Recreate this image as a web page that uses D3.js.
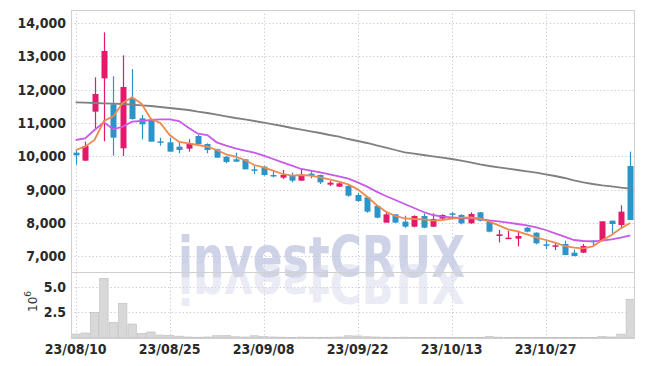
<!DOCTYPE html>
<html><head><meta charset="utf-8">
<script src="https://cdn.jsdelivr.net/npm/d3@7"></script>
<style>body{margin:0;background:#fff}svg{display:block}</style>
</head><body><svg id="c" width="645" height="366"></svg>
<script>
const dates = ["23/08/10","23/08/11","23/08/14","23/08/16","23/08/17","23/08/18","23/08/21","23/08/22","23/08/23","23/08/24",
"23/08/25","23/08/28","23/08/29","23/08/30","23/08/31","23/09/01","23/09/04","23/09/05","23/09/06","23/09/07",
"23/09/08","23/09/11","23/09/12","23/09/13","23/09/14","23/09/15","23/09/18","23/09/19","23/09/20","23/09/21",
"23/09/22","23/09/25","23/09/26","23/09/27","23/10/04","23/10/05","23/10/06","23/10/10","23/10/11","23/10/12",
"23/10/13","23/10/16","23/10/17","23/10/18","23/10/19","23/10/20","23/10/23","23/10/24","23/10/25","23/10/26",
"23/10/27","23/10/30","23/10/31","23/11/01","23/11/02","23/11/03","23/11/06","23/11/07","23/11/08","23/11/09"];
const open  = [10110,9870,11340,12340,11560,10240,11740,11140,11090,10450,10420,10290,10230,10610,10370,10210,9990,9910,9910,9610,
9690,9440,9360,9440,9270,9480,9440,9150,9090,9110,8840,8770,8510,8010,8260,8040,7890,8210,7890,8130,
8290,8240,7990,8320,8040,7610,7530,7530,7860,7710,7360,7290,7370,7110,7110,7470,7490,8070,7940,9710];
const high  = [10190,10440,12370,13720,12400,13030,12620,11240,11140,10560,10560,10440,10510,10640,10390,10230,10010,10110,9920,9710,
9710,9570,9590,9510,9620,9570,9450,9270,9220,9140,8910,8790,8510,8310,8260,8220,8230,8290,8290,8260,
8320,8260,8320,8330,8060,7790,7770,7770,7880,7720,7510,7410,7470,7200,7370,7490,8050,8070,8530,10140];
const low   = [9750,9860,10840,10450,10020,10010,11100,10510,10440,10320,10140,10090,10140,10370,10090,9960,9790,9840,9610,9470,
9420,9370,9320,9220,9260,9340,9170,9110,9080,8790,8630,8310,8140,8010,8010,7860,7870,7840,7880,8120,
8170,7960,7980,8050,7720,7420,7530,7300,7720,7360,7210,7190,7040,7000,7100,7290,7470,7690,7820,8090];
const close = [10030,10310,11870,13160,10560,12080,11120,10960,10440,10420,10140,10190,10390,10370,10190,9960,9830,9840,9610,9570,
9440,9410,9440,9270,9410,9410,9220,9210,9190,8820,8660,8340,8160,8260,8010,7890,8210,7860,8120,8240,
8260,7990,8270,8070,7740,7660,7560,7610,7740,7390,7330,7330,7040,7010,7310,7430,8050,7970,8340,8090];
const volume = [0.39,0.49,2.5,5.85,1.54,3.4,1.37,0.46,0.59,0.29,0.26,0.18,0.1,0.08,0.1,0.22,0.24,0.12,0.1,0.22,
0.13,0.1,0.08,0.07,0.09,0.08,0.07,0.08,0.1,0.22,0.2,0.12,0.1,0.08,0.07,0.08,0.07,0.06,0.07,0.06,
0.07,0.06,0.06,0.07,0.14,0.08,0.05,0.06,0.05,0.06,0.05,0.05,0.06,0.05,0.06,0.07,0.16,0.1,0.38,3.8];
const ma5  = [10190,10290,10490,11060,11200,11600,11770,11580,11120,11000,10640,10430,10390,10340,10290,10190,10060,9990,9890,9740,
9670,9570,9470,9420,9440,9420,9370,9310,9240,9160,9010,8790,8540,8340,8210,8140,8120,8110,8070,8090,
8130,8160,8170,8140,8040,7930,7810,7750,7660,7570,7490,7410,7310,7260,7240,7300,7480,7640,7840,8000];
const ma10 = [10490,10540,10790,11020,10810,10890,11040,11060,11090,11110,11110,11060,10860,10680,10640,10420,10320,10240,10170,10110,
10020,9920,9820,9720,9620,9570,9520,9460,9400,9330,9220,9090,8940,8810,8690,8570,8450,8330,8240,8190,
8170,8150,8140,8120,8080,8050,8010,7970,7930,7870,7790,7690,7590,7490,7460,7450,7470,7510,7560,7630];
const ma60 = [11620,11610,11600,11590,11580,11570,11550,11530,11510,11480,11450,11420,11390,11340,11300,11250,11200,11150,11110,11060,
11010,10960,10910,10850,10800,10750,10700,10640,10590,10520,10460,10400,10330,10260,10190,10120,10080,10040,10000,9960,
9920,9870,9820,9760,9710,9670,9630,9590,9550,9510,9460,9410,9350,9280,9220,9170,9130,9100,9060,9030];
const priceTicks = [7000,8000,9000,10000,11000,12000,13000,14000];
const volTicks = [2.5,5.0];
const xLabels = ["23/08/10","23/08/25","23/09/08","23/09/22","23/10/13","23/10/27"];

const L=71, R=635, T=10, PB=272, VB=338;
const UP="#e31a6a", DOWN="#2b95c9";
const svg=d3.select("#c");
const x=d3.scaleBand().domain(dates).range([L,R]).padding(0);
const bw=x.bandwidth();
const cx=d=>x(d)+bw/2;
const y=d3.scaleLinear().domain([6530,14390]).range([PB,T]);
const yv=d3.scaleLinear().domain([0,6.47]).range([VB,PB]);
const font='"Liberation Sans Narrow","DejaVu Sans Condensed",sans-serif';

// grid
const grid=svg.append("g").attr("stroke","#c4c7da").attr("stroke-dasharray","1.2,2.4").attr("stroke-width",1);
grid.selectAll(".h").data(priceTicks).join("line").attr("x1",L).attr("x2",R).attr("y1",d=>Math.round(y(d))+0.5).attr("y2",d=>Math.round(y(d))+0.5);
grid.selectAll(".hv").data(volTicks).join("line").attr("x1",L).attr("x2",R).attr("y1",d=>Math.round(yv(d))+0.5).attr("y2",d=>Math.round(yv(d))+0.5);
grid.selectAll(".v").data(xLabels).join("line").attr("x1",d=>Math.round(cx(d))+0.5).attr("x2",d=>Math.round(cx(d))+0.5).attr("y1",T).attr("y2",VB);

// watermark (text + mirrored reflection)
const wm=svg.append("g").attr("font-family",'"DejaVu Sans",sans-serif').attr("font-weight","bold").attr("font-size",57);
wm.append("text").attr("x",178).attr("y",277).attr("textLength",287).attr("lengthAdjust","spacingAndGlyphs")
  .attr("fill","#bfc5e0").attr("opacity",0.75).text("investCRUX");
wm.append("text").attr("x",178).attr("y",-279).attr("transform","scale(1,-0.95)").attr("textLength",287).attr("lengthAdjust","spacingAndGlyphs")
  .attr("fill","#d9dcec").attr("opacity",0.55).text("investCRUX");

// volume bars
svg.append("g").selectAll("rect").data(dates).join("rect")
  .attr("x",d=>x(d)+0.5).attr("width",bw-1)
  .attr("y",(d,i)=>yv(volume[i])).attr("height",(d,i)=>VB-yv(volume[i]))
  .attr("fill","#d8d8d8").attr("stroke","#bdbdbd").attr("stroke-width",0.6);

// candles
const cg=svg.append("g");
const col=i=>close[i]>=open[i]?UP:DOWN;
cg.selectAll("line").data(dates).join("line")
  .attr("x1",d=>Math.round(cx(d))+0.5).attr("x2",d=>Math.round(cx(d))+0.5)
  .attr("y1",(d,i)=>y(high[i])).attr("y2",(d,i)=>y(low[i]))
  .attr("stroke",(d,i)=>col(i)).attr("stroke-width",1.2);
const cw=6;
cg.selectAll("rect").data(dates).join("rect")
  .attr("x",d=>Math.round(cx(d))+0.5-cw/2).attr("width",cw)
  .attr("y",(d,i)=>y(Math.max(open[i],close[i])))
  .attr("height",(d,i)=>Math.max(1.5,Math.abs(y(open[i])-y(close[i]))))
  .attr("fill",(d,i)=>col(i));

// moving averages
const line=arr=>d3.line().x((d,i)=>cx(dates[i])).y(d=>y(d))(arr);
svg.append("path").attr("d",line(ma60)).attr("fill","none").attr("stroke","#808080").attr("stroke-width",1.8);
svg.append("path").attr("d",line(ma10)).attr("fill","none").attr("stroke","#c95ae8").attr("stroke-width",1.8);
svg.append("path").attr("d",line(ma5)).attr("fill","none").attr("stroke","#ee8a4e").attr("stroke-width",1.8);

// frame
const fr=svg.append("g").attr("stroke","#d0d0d0").attr("fill","none");
fr.append("rect").attr("x",L+0.5).attr("y",T+0.5).attr("width",R-L-1).attr("height",VB-T);
fr.append("line").attr("x1",L).attr("x2",R).attr("y1",PB+0.5).attr("y2",PB+0.5);

// axes
const ya=svg.append("g").attr("transform",`translate(${L},0)`)
  .call(d3.axisLeft(y).tickValues(priceTicks).tickFormat(d3.format(",")).tickSize(0).tickPadding(5));
const yva=svg.append("g").attr("transform",`translate(${L},0)`)
  .call(d3.axisLeft(yv).tickValues(volTicks).tickFormat(d3.format(".1f")).tickSize(0).tickPadding(5));
const xa=svg.append("g").attr("transform",`translate(0,${VB})`)
  .call(d3.axisBottom(x).tickValues(xLabels).tickSize(0).tickPadding(6));
[ya,yva,xa].forEach(a=>{
  a.select(".domain").remove();
  a.selectAll("text").attr("font-family",font).attr("font-weight","bold").attr("font-size",14).attr("fill","#2a2a2a");
});

// 10^6 label
const ul=svg.append("text").attr("transform","translate(37,312) rotate(-90)")
  .attr("font-family",'"DejaVu Sans",sans-serif').attr("font-size",12).attr("fill","#333");
ul.append("tspan").text("10");
ul.append("tspan").attr("dy",-6).attr("font-size",9).text("6");
</script></body></html>
